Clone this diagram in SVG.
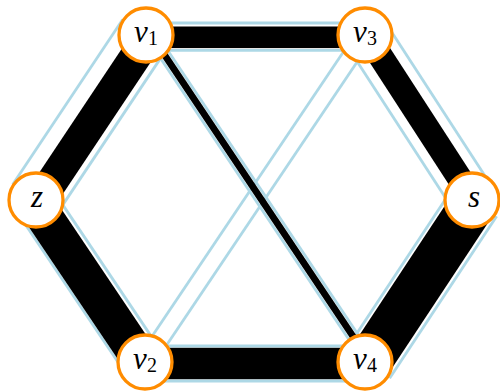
<svg xmlns="http://www.w3.org/2000/svg" width="500" height="392" viewBox="0 0 500 392">
<style>
.cap{stroke:#add8e6;stroke-width:2.8;fill:none}
.flow{fill:#000}
.node circle{fill:#fff;stroke:#ff8c00;stroke-width:3.3}
.lbl{font-family:"Liberation Serif","DejaVu Serif",serif;font-style:italic;font-size:31px;text-anchor:middle;fill:#000}
.sub{font-style:normal;font-size:20px}
</style>
<rect width="500" height="392" fill="#fff"/>
<g id="connectors">
  <g id="e-z-v1">
    <line class="cap" x1="12.7" y1="184.47" x2="122.7" y2="19.47"/>
    <line class="cap" x1="56.8" y1="213.87" x2="166.8" y2="48.87"/>
  </g>
  <g id="e-z-v2">
    <line class="cap" x1="17.34" y1="212.56" x2="126.34" y2="374.56"/>
    <line class="cap" x1="52.18" y1="189.12" x2="161.18" y2="351.12"/>
  </g>
  <g id="e-v3-s">
    <line class="cap" x1="347.38" y1="46.42" x2="454.38" y2="211.42"/>
    <line class="cap" x1="385.14" y1="21.94" x2="492.14" y2="186.94"/>
  </g>
  <g id="e-s-v4">
    <line class="cap" x1="453.22" y1="187.6" x2="346.22" y2="349.6"/>
    <line class="cap" x1="496.62" y1="216.26" x2="389.62" y2="378.26"/>
  </g>
  <g id="e-v1-v3">
    <line class="cap" x1="146" y1="23" x2="365" y2="23"/>
    <line class="cap" x1="146" y1="50.3" x2="365" y2="50.3"/>
  </g>
  <g id="e-v2-v4">
    <line class="cap" x1="145" y1="346" x2="365" y2="346"/>
    <line class="cap" x1="145" y1="381" x2="365" y2="381"/>
  </g>
  <g id="e-v1-v4">
    <line class="cap" x1="145.25" y1="35.5" x2="364.25" y2="362.5"/>
    <line class="cap" x1="153.89" y1="29.71" x2="372.89" y2="356.71"/>
  </g>
  <g id="e-v3-v2">
    <line class="cap" x1="357.95" y1="30.26" x2="137.95" y2="357.26"/>
    <line class="cap" x1="372.05" y1="39.74" x2="152.05" y2="366.74"/>
  </g>
  <g id="flows">
    <polygon class="flow" points="25.6,193.07 135.6,28.07 161.81,45.54 51.81,210.54"/>
    <polygon class="flow" points="18.58,211.72 127.58,373.72 158.27,353.07 49.27,191.07"/>
    <polygon class="flow" points="355.77,40.98 462.77,205.98 483.75,192.38 376.75,27.38"/>
    <polygon class="flow" points="455.73,189.25 348.73,351.25 386.7,376.33 493.7,214.33"/>
    <rect class="flow" x="146" y="26.5" width="219" height="21.6"/>
    <rect class="flow" x="145" y="347.8" width="220" height="31.4"/>
    <polygon class="flow" points="146.75,34.5 365.75,361.5 371.4,357.72 152.4,30.72"/>
  </g>
</g>
<g id="v1" class="node"><circle cx="146" cy="35" r="27"/><text class="lbl" x="146" y="42">v<tspan class="sub" dy="3">1</tspan></text></g>
<g id="v3" class="node"><circle cx="365" cy="35" r="27"/><text class="lbl" x="365" y="42">v<tspan class="sub" dy="3">3</tspan></text></g>
<g id="z" class="node"><circle cx="36" cy="200" r="27"/><text class="lbl" x="37" y="207">z</text></g>
<g id="s" class="node"><circle cx="472" cy="200" r="27"/><text class="lbl" x="474" y="207">s</text></g>
<g id="v2" class="node"><circle cx="145" cy="362" r="27"/><text class="lbl" x="145" y="369">v<tspan class="sub" dy="3">2</tspan></text></g>
<g id="v4" class="node"><circle cx="365" cy="362" r="27"/><text class="lbl" x="365" y="369">v<tspan class="sub" dy="3">4</tspan></text></g>
</svg>
